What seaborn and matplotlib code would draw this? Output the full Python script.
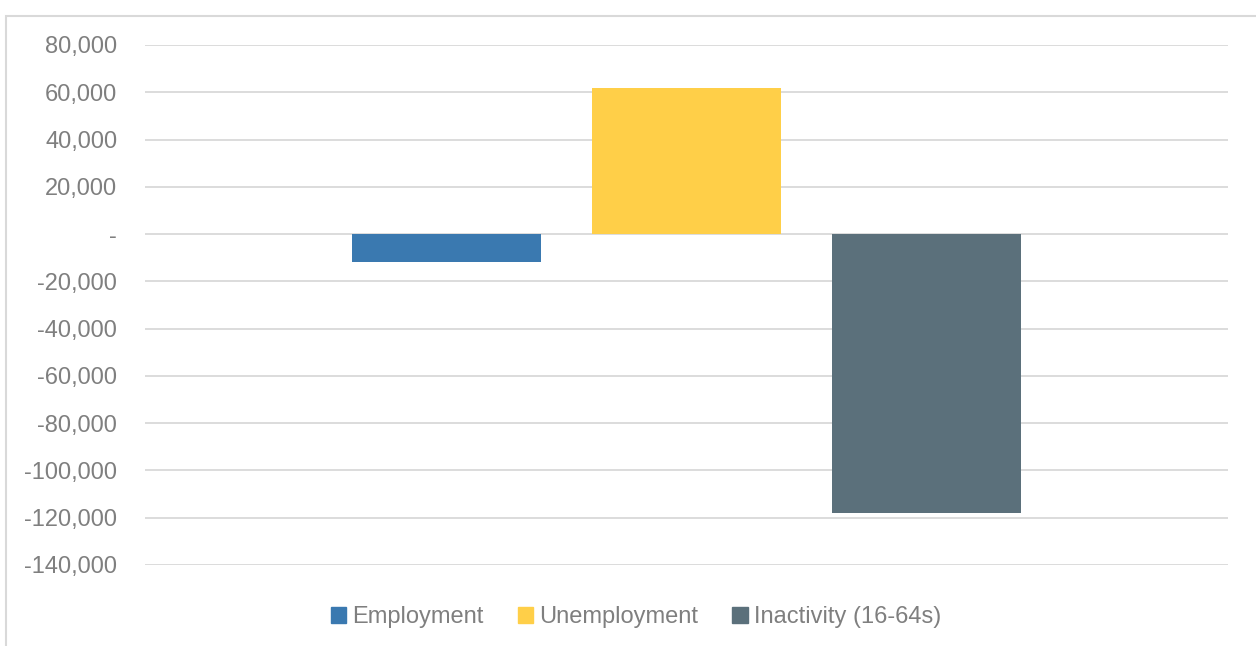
import pandas as pd
import numpy as np
import matplotlib
matplotlib.use("Agg")
import matplotlib.pyplot as plt
import seaborn as sns
from matplotlib.patches import Rectangle
from matplotlib.ticker import FuncFormatter, MultipleLocator

# ========== DATOS ==========
series = ["Employment", "Unemployment", "Inactivity (16-64s)"]
values = [-12000, 62000, -118000]
colors = ["#3A79B0", "#FFCF48", "#5B707B"]

df = pd.DataFrame({"grupo": [""] * len(series), "serie": series, "valor": values})

# ========== ESTILO ==========
sns.set_theme(style="white")
plt.rcParams["font.family"] = ["Liberation Sans", "DejaVu Sans"]
text_color = "#7F7F7F"
grid_color = "#D9D9D9"

fig = plt.figure(figsize=(12.56, 6.46), dpi=100)
ax = fig.add_axes([145 / 1256, 1 - 565 / 646, (1228 - 145) / 1256, (565 - 45) / 646])

sns.barplot(data=df, x="grupo", y="valor", hue="serie", hue_order=series,
            palette=colors, width=0.665, gap=0.2125, saturation=1,
            linewidth=0, legend=False, ax=ax, zorder=3)

ax.set_xlim(-0.5, 0.5)
ax.set_ylim(-140000, 80000)
ax.yaxis.set_major_locator(MultipleLocator(20000))
ax.yaxis.set_major_formatter(FuncFormatter(lambda v, p: "-" if v == 0 else f"{v:,.0f}"))
ax.grid(axis="y", color=grid_color, linewidth=1.3, zorder=0)
ax.set_axisbelow(True)
ax.set_xlabel("")
ax.set_ylabel("")
ax.set_xticks([])
ax.tick_params(axis="y", length=0, pad=20, labelsize=17, labelcolor=text_color)
for s in ax.spines.values():
    s.set_visible(False)

# Leyenda
handles = [Rectangle((0, 0), 1, 1, color=c) for c in colors]
fig.legend(handles, series, loc="center", bbox_to_anchor=(636 / 1256, 1 - 617 / 646),
           ncol=3, frameon=False, fontsize=17, labelcolor=text_color,
           handlelength=0.65, handleheight=0.65, handletextpad=0.25, columnspacing=1.45)

# Borde del grafico
fig.patches.append(Rectangle((5.5 / 1256, -0.1), 1.2, 1.1 - 15.5 / 646,
                             transform=fig.transFigure, fill=False,
                             edgecolor=grid_color, linewidth=1.5))

plt.savefig("out.png", dpi=100)
